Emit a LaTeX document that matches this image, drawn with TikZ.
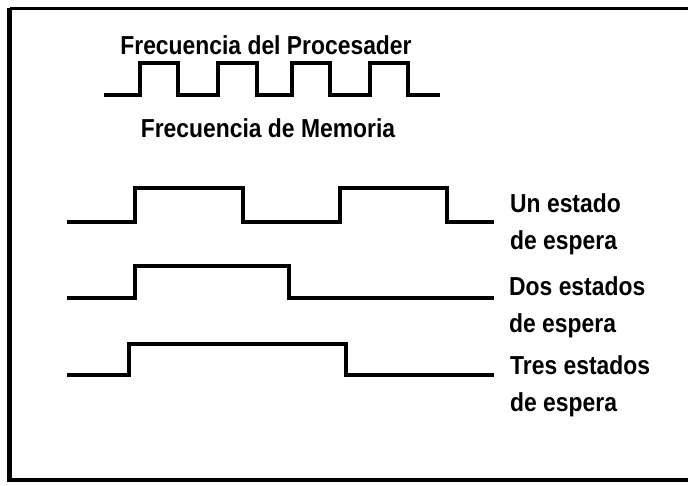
\documentclass[tikz,border=0pt]{standalone}
\usepackage{fontspec}
\setmainfont{Liberation Sans}[FakeStretch=0.88]
\usetikzlibrary{positioning}

\tikzset{
  wave/.style={line width=3.2pt,line join=miter},
  lbl/.style={font={\fontsize{26}{37}\selectfont\bfseries},inner sep=0pt,align=left,anchor=west},
  ttl/.style={font={\fontsize{26}{30}\selectfont\bfseries},inner sep=0pt}
}

\begin{document}
\begin{tikzpicture}[x=1pt,y=-1pt]
\useasboundingbox (0,0) rectangle (688,485);
% marco
\draw[line width=3pt] (10,8) -- (688,8);
\draw[line width=5pt] (9,8) -- (9,480);
\draw[line width=4pt] (7,480) -- (688,480);

% reloj del procesador
\node[ttl] (proc) at (266,45) {Frecuencia del Procesader};
\draw[wave] (104,95) \foreach \r/\f in {140/178,218/257,292/330,370/408}{
  -- (\r,95) -- (\r,63) -- (\f,63) -- (\f,95)} -- (440,95);
\node[ttl] (mem) at (268,128) {Frecuencia de Memoria};

% memoria
\draw[wave] (67,222) \foreach \r/\f in {135/243,340/447}{
  -- (\r,222) -- (\r,188) -- (\f,188) -- (\f,222)} -- (494,222);
\draw[wave] (67,298) -- (135,298) -- (135,266) -- (289,266) -- (289,298) -- (494,298);
\draw[wave] (67,375) -- (129,375) -- (129,344) -- (346,344) -- (346,375) -- (494,375);

\node[lbl] (uno) at (510,224) {Un estado\\de espera};
\node[lbl] (dos) at (509,307) {Dos estados\\de espera};
\node[lbl] (tres) at (510,386) {Tres estados\\de espera};
\end{tikzpicture}
\end{document}
